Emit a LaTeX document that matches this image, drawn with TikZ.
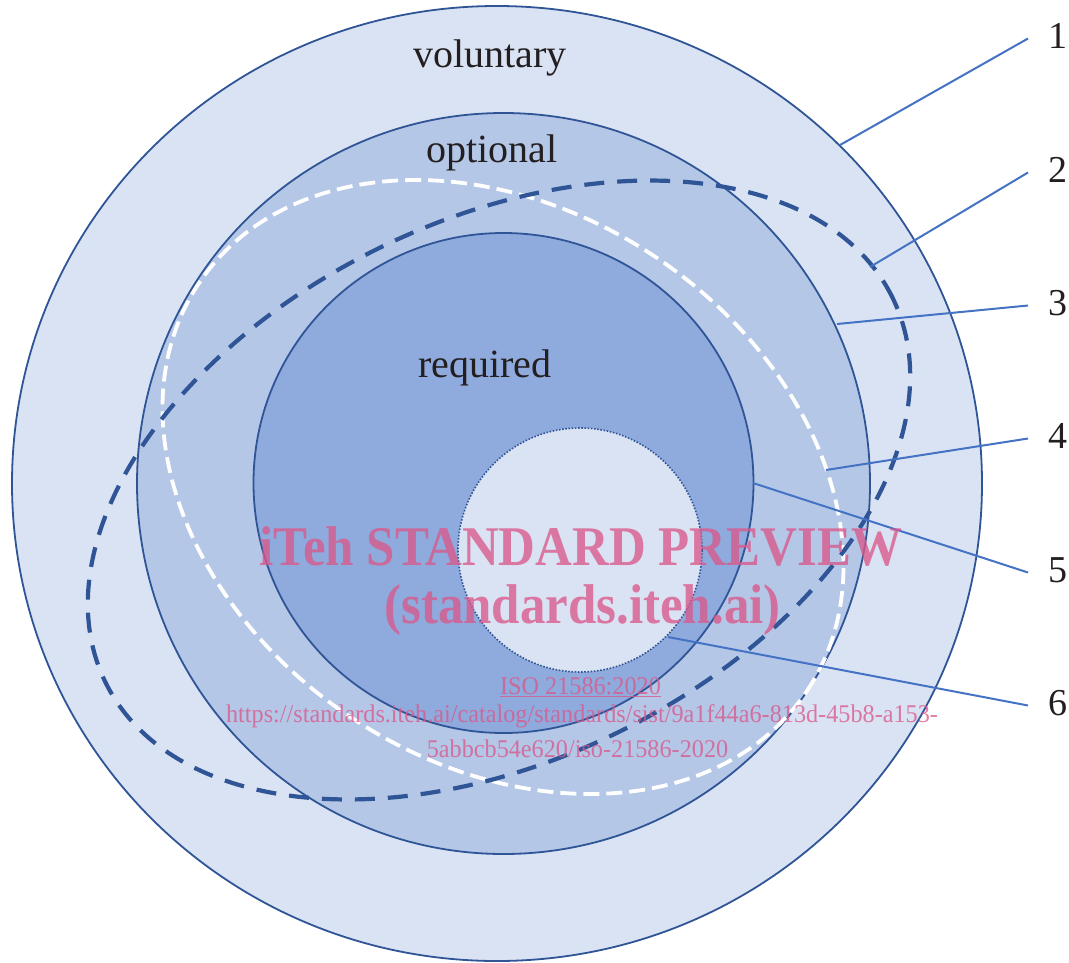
\documentclass[tikz,border=0pt]{standalone}
\usepackage{fontspec}
\setmainfont{Liberation Serif}
\definecolor{volfill}{RGB}{218,227,243}
\definecolor{optfill}{RGB}{180,199,231}
\definecolor{reqfill}{RGB}{143,170,220}
\definecolor{edgeblue}{RGB}{47,85,151}
\definecolor{leadblue}{RGB}{68,114,196}
\definecolor{wmpink}{RGB}{218,88,140}
\definecolor{ink}{RGB}{35,31,32}
\tikzset{
  ring/.style={draw=edgeblue, line width=1.8pt},
  bluedash/.style={draw=edgeblue, line width=4.2pt, dash pattern=on 20pt off 13pt},
  whitedash/.style={draw=white, line width=3.8pt, dash pattern=on 16pt off 7pt},
  leader/.style={draw=leadblue, line width=2pt},
  word/.style={anchor=base, inner sep=0pt, text=ink, font=\fontsize{40pt}{46pt}\selectfont},
  numlbl/.style={anchor=base west, inner xsep=20pt, inner ysep=0pt, text=ink, font=\fontsize{38pt}{44pt}\selectfont},
  wmbig/.style={anchor=base, inner sep=0pt, text=wmpink, text opacity=0.78, font=\bfseries\fontsize{56pt}{62pt}\selectfont},
  wmsmall/.style={anchor=base, inner sep=0pt, text=wmpink, text opacity=0.78, font=\fontsize{25.5pt}{30pt}\selectfont}
}
\begin{document}
\begin{tikzpicture}[x=1pt,y=1pt]
\useasboundingbox (0,0) rectangle (1069,-962);
% rings
\draw[ring, fill=volfill] (497,-483.5) ellipse [x radius=485, y radius=477.5];
\draw[ring, fill=optfill] (503.5,-483.5) ellipse [x radius=366.5, y radius=370.5];
\draw[ring, fill=reqfill] (503.5,-483) circle [radius=250];
\draw[draw=edgeblue, line width=1.6pt, dash pattern=on 1.6pt off 1.6pt, fill=volfill] (580,-550) circle [radius=122];
% dashed ellipses
\draw[whitedash, rotate around={-34:(503,-487)}] (503,-487) ellipse [x radius=366, y radius=276];
\draw[bluedash, rotate around={26:(499,-490)}] (499,-490) ellipse [x radius=438, y radius=270];
% texts
\node[word] (tvol) at (490,-67) {voluntary};
\node[word] (topt) at (492,-162) {optional};
\node[word] (treq) at (485,-377) {required};
% number labels
\node[numlbl] (n1) at (1028,-48) {1};
\node[numlbl] (n2) at (1028,-182) {2};
\node[numlbl] (n3) at (1028,-315) {3};
\node[numlbl] (n4) at (1028,-448) {4};
\node[numlbl] (n5) at (1028,-582) {5};
\node[numlbl] (n6) at (1028,-715) {6};
% leader start points
\coordinate (c1) at (840,-145);
\coordinate (c2) at (870,-267);
\coordinate (c3) at (837,-324);
\coordinate (c4) at (826,-470);
\coordinate (c5) at (753,-483);
\coordinate (c6) at (668,-637);
\draw[leader] (c1) -- ([yshift=9.5pt]n1.base west);
\draw[leader] (c2) -- ([yshift=9.5pt]n2.base west);
\draw[leader] (c3) -- ([yshift=9.5pt]n3.base west);
\draw[leader] (c4) -- ([yshift=9.5pt]n4.base west);
\draw[leader] (c5) -- ([yshift=9.5pt]n5.base west);
\draw[leader] (c6) -- ([yshift=9.5pt]n6.base west);
% watermark
\node[wmbig] (w1) at (581,-565) {\scalebox{0.91}[1]{iTeh STANDARD PREVIEW}};
\node[wmbig] (w2) at (582.5,-623) {\scalebox{0.91}[1]{(standards.iteh.ai)}};
\node[wmsmall] (w3) at (580.5,-694) {\scalebox{0.95}[1]{\underline{ISO 21586:2020}}};
\node[wmsmall] (w4) at (582,-722) {\scalebox{0.95}[1]{https://standards.iteh.ai/catalog/standards/sist/9a1f44a6-813d-45b8-a153-}};
\node[wmsmall] (w5) at (577.5,-757) {\scalebox{0.95}[1]{5abbcb54e620/iso-21586-2020}};
\end{tikzpicture}
\end{document}
